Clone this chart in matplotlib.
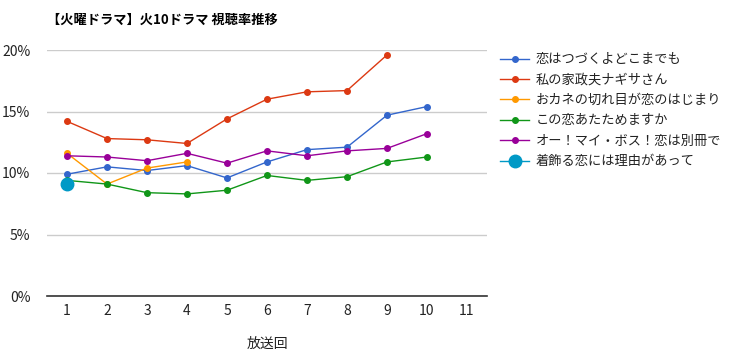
import matplotlib
matplotlib.use("Agg")
import matplotlib.pyplot as plt
from matplotlib.ticker import FuncFormatter

plt.rcParams['font.family'] = ['Noto Sans CJK JP', 'DejaVu Sans']

title = "【火曜ドラマ】火10ドラマ 視聴率推移"
xlabel = "放送回"
episodes = list(range(1, 12))

names = ["恋はつづくよどこまでも", "私の家政夫ナギサさん", "おカネの切れ目が恋のはじまり",
         "この恋あたためますか", "オー！マイ・ボス！恋は別冊で", "着飾る恋には理由があって"]
colors = ["#3366cc", "#dc3912", "#ff9900", "#109618", "#990099", "#0099c6"]

koitsuzu = [9.9, 10.5, 10.2, 10.6, 9.6, 10.9, 11.9, 12.1, 14.7, 15.4]
nagisa = [14.2, 12.8, 12.7, 12.4, 14.4, 16.0, 16.6, 16.7, 19.6]
okane = [11.6, 9.1, 10.4, 10.9]
koiata = [9.4, 9.1, 8.4, 8.3, 8.6, 9.8, 9.4, 9.7, 10.9, 11.3]
ohmyboss = [11.4, 11.3, 11.0, 11.6, 10.8, 11.8, 11.4, 11.8, 12.0, 13.2]
kikazaru = [9.1]

series = [koitsuzu, nagisa, okane, koiata, ohmyboss, kikazaru]

fig = plt.figure(figsize=(7.34, 3.53), dpi=100)
ax = fig.add_axes([47/734, 1-296/353, 440/734, 246/353])

for name, col, vals in zip(names, colors, series):
    big = len(vals) == 1
    ax.plot(episodes[:len(vals)], vals, color=col, lw=1.0, marker='o',
            markersize=9 if big else 4, label=name, zorder=3)

ax.set_xlim(0.5, 11.5)
ax.set_ylim(0, 20)
ax.set_yticks([0, 5, 10, 15, 20])
ax.yaxis.set_major_formatter(FuncFormatter(lambda v, p: f"{int(v)}%"))
ax.set_xticks(episodes)
ax.grid(axis='y', color='#cccccc', lw=1)
ax.set_axisbelow(True)
for s in ['top', 'right', 'left']:
    ax.spines[s].set_visible(False)
ax.spines['bottom'].set_color('#333333')
ax.spines['bottom'].set_linewidth(1.2)
ax.tick_params(length=0, labelsize=10, colors='#222222', pad=6)
ax.tick_params(axis='y', pad=12)
ax.set_xlabel(xlabel, fontsize=10, color='#222222', labelpad=13)

fig.text(47/734, 1-20/353, title, fontsize=9.5, fontweight='bold', va='center', ha='left', color='#000000')

leg = fig.legend(loc='upper left', bbox_to_anchor=(495/734, 1-48/353), frameon=False,
                 fontsize=9.5, handlelength=2.2, labelspacing=0.56, handletextpad=0.5,
                 borderaxespad=0)
for t in leg.get_texts():
    t.set_color('#222222')

fig.savefig("out.png", dpi=100)
